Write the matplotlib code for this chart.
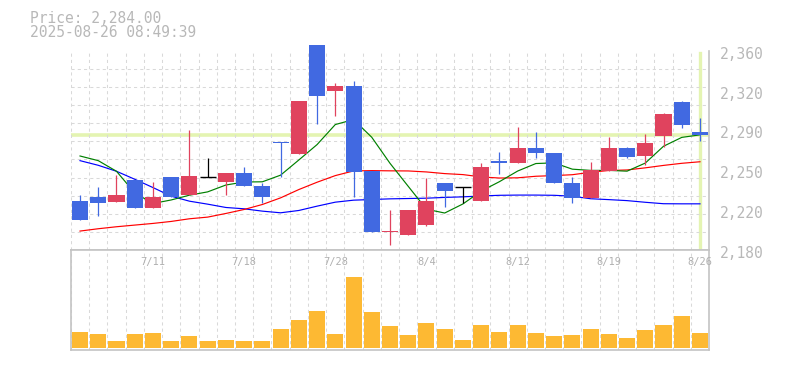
import matplotlib
matplotlib.use("Agg")
import matplotlib.pyplot as plt
import matplotlib.transforms as mtransforms
import numpy as np

# daily data 2025-07-07 .. 2025-08-26
dates = ["7/7", "7/8", "7/9", "7/10", "7/11", "7/14", "7/15", "7/16", "7/17", "7/18",
         "7/22", "7/23", "7/24", "7/25", "7/28", "7/29", "7/30", "7/31", "8/1", "8/4",
         "8/5", "8/6", "8/7", "8/8", "8/12", "8/13", "8/14", "8/15", "8/18", "8/19",
         "8/20", "8/21", "8/22", "8/25", "8/26"]
opens = [2224.7, 2228.3, 2223.2, 2243.6, 2217.8, 2245.7, 2229.5, 2246.3, 2241.2, 2249.9,
         2238.2, 2277.8, 2266.4, 2365.1, 2323.7, 2328.2, 2251.1, 2196.5, 2193.2, 2202.2,
         2240.9, 2237.3, 2224.1, 2260.7, 2258.3, 2272.4, 2267.9, 2240.9, 2226.8, 2251.1,
         2272.4, 2264.6, 2282.6, 2313.8, 2286.8]
highs = [2230.1, 2237.3, 2247.5, 2243.6, 2241.8, 2245.7, 2288.6, 2263.4, 2249.9, 2254.7,
         2240.3, 2277.8, 2315.0, 2365.1, 2331.2, 2333.0, 2251.1, 2215.7, 2215.7, 2245.4,
         2240.9, 2237.3, 2258.6, 2268.8, 2291.3, 2286.8, 2267.9, 2245.7, 2259.8, 2282.3,
         2273.3, 2285.0, 2303.9, 2314.7, 2299.4]
lows = [2207.0, 2210.6, 2223.2, 2217.8, 2217.8, 2227.7, 2229.5, 2246.3, 2229.5, 2237.6,
        2222.9, 2246.3, 2266.4, 2293.4, 2301.2, 2227.7, 2196.2, 2184.2, 2193.2, 2201.3,
        2218.4, 2222.0, 2224.1, 2248.4, 2258.3, 2262.8, 2240.3, 2222.3, 2226.8, 2251.1,
        2262.8, 2256.8, 2272.7, 2289.8, 2278.1]
closes = [2207.0, 2222.3, 2229.5, 2217.8, 2228.3, 2227.7, 2246.6, 2246.3, 2249.9, 2237.6,
          2227.7, 2276.3, 2315.0, 2319.5, 2328.2, 2250.2, 2196.2, 2197.4, 2215.7, 2224.7,
          2233.1, 2237.3, 2255.3, 2258.3, 2272.4, 2267.3, 2240.3, 2226.8, 2252.6, 2272.4,
          2263.7, 2276.9, 2303.0, 2292.5, 2284.0]
volume = [16, 14, 7, 14, 15, 7, 12, 7, 8, 7,
          7, 19, 28, 37, 14, 71, 36, 22, 13, 25,
          19, 8, 23, 16, 23, 15, 12, 13, 19, 14,
          10, 18, 23, 32, 15]  # thousand shares

ma_short = [2264.9, 2260.7, 2251.1, 2231.6, 2222.0, 2225.2, 2229.5, 2232.5, 2238.7, 2241.4,
            2241.6, 2247.6, 2261.3, 2275.2, 2293.3, 2297.8, 2281.8, 2258.3, 2237.5, 2216.8,
            2213.4, 2221.6, 2233.2, 2241.7, 2251.3, 2258.1, 2258.7, 2253.0, 2251.9, 2251.9,
            2251.2, 2258.5, 2273.7, 2281.7, 2284.0]
ma_mid = [2197.1, 2199.2, 2201.0, 2202.5, 2204.0, 2205.8, 2208.2, 2209.7, 2213.0, 2216.6,
          2221.1, 2227.1, 2234.6, 2241.2, 2247.2, 2251.4, 2251.7, 2251.5, 2251.4, 2250.5,
          2249.0, 2248.1, 2246.0, 2245.0, 2245.2, 2246.6, 2247.2, 2248.0, 2250.2, 2251.8,
          2252.3, 2254.2, 2256.4, 2258.3, 2259.7]
ma_long = [2260.7, 2256.5, 2251.1, 2243.9, 2236.4, 2228.6, 2224.1, 2221.4, 2218.4, 2217.2,
           2215.1, 2213.6, 2215.7, 2219.6, 2223.2, 2225.0, 2225.6, 2226.2, 2226.5, 2226.8,
           2227.5, 2228.0, 2228.8, 2229.4, 2229.6, 2229.6, 2229.4, 2228.6, 2226.3, 2225.5,
           2224.6, 2223.1, 2221.8, 2221.7, 2221.7]

price_now = 2284.00
stamp = "2025-08-26 08:49:39"
ytick_vals = [2180, 2216, 2252, 2288, 2324, 2360]
ytick_labels = ["2,180", "2,220", "2,250", "2,290", "2,320", "2,360"]
label_idx = [4, 9, 14, 19, 24, 29, 34]

UP = "#E0435E"
DOWN = "#4169E1"
GRID = "#d9d9d9"
FRAME = "#c4c4c4"
TXT = "#b8b8b8"
HL = "#E4F4B2"
VOLC = "#FDB933"

W, H = 785, 370
fig = plt.figure(figsize=(W / 100, H / 100), dpi=100)
left, right = 70.9, 709.1
ax = fig.add_axes([left / W, 1 - 250 / H, (right - left) / W, 199.3 / H])
axv = fig.add_axes([left / W, 1 - 350 / H, (right - left) / W, 100 / H])

x = np.arange(len(dates))
n = len(dates)

# price panel
ax.set_xlim(-0.5, n - 0.5)
ax.set_ylim(2180, 2360)
ax.set_xticks(np.arange(-0.5, n, 1.0), minor=True)
ax.set_yticks(np.linspace(2180, 2360, 12), minor=True)
ax.grid(which="minor", color=GRID, linestyle=(0, (3, 3)), linewidth=0.75)
ax.tick_params(which="both", length=0)
ax.set_xticks([])
ax.yaxis.tick_right()
ax.set_yticks(ytick_vals)
ax.set_yticklabels(ytick_labels, family="DejaVu Sans Mono", fontsize=10.5, color=TXT)
ax.tick_params(axis="y", pad=8)
off = mtransforms.ScaledTranslation(0, -2 / 100, fig.dpi_scale_trans)
for lab in ax.get_yticklabels():
    lab.set_transform(lab.get_transform() + off)
for s in ["top", "left"]:
    ax.spines[s].set_visible(False)
for s in ["right", "bottom"]:
    ax.spines[s].set_color(FRAME)
    ax.spines[s].set_linewidth(1.2)

ax.axhline(price_now, color=HL, linewidth=2.6, zorder=1)
ax.axvline(x[-1], color=HL, linewidth=2.4, zorder=1, ymax=0.99, ymin=0.01)

ax.plot(x, ma_long, color="#0000FF", linewidth=0.85, zorder=2)
ax.plot(x, ma_mid, color="#FF0000", linewidth=0.85, zorder=2)
ax.plot(x, ma_short, color="#008000", linewidth=0.85, zorder=2)

for i in range(n):
    o, c = opens[i], closes[i]
    if c > o:
        col = UP
    elif c < o:
        col = DOWN
    else:
        col = "black"
    ax.vlines(x[i], lows[i], highs[i], color=col, linewidth=0.9, zorder=3)
    if c == o:
        ax.hlines(o, x[i] - 0.44, x[i] + 0.44, color=col, linewidth=1.0, zorder=4)
    else:
        bot = min(o, c)
        hgt = max(abs(c - o), 1.0)
        b = ax.bar(x[i], hgt, bottom=bot, width=0.88, color=col, linewidth=0, zorder=4)
        for p in b:
            p.set_clip_on(False)

# volume panel
axv.set_xlim(-0.5, n - 0.5)
axv.set_ylim(-2.3, 97.7)
axv.bar(x, volume, width=0.88, color=VOLC, linewidth=0, zorder=2)
axv.set_xticks(np.arange(-0.5, n, 1.0), minor=True)
axv.grid(which="minor", axis="x", color=GRID, linestyle=(0, (3, 3)), linewidth=0.75)
axv.set_xticks([])
axv.set_yticks([])
axv.tick_params(which="both", length=0)
for s in axv.spines.values():
    s.set_color(FRAME)
    s.set_linewidth(1.2)
trans = mtransforms.blended_transform_factory(axv.transData, axv.transAxes)
for i in label_idx:
    axv.text(x[i], 0.88, dates[i], transform=trans, ha="center", va="center",
             family="DejaVu Sans Mono", fontsize=7.5, color="#b0b0b0", zorder=5)

# header
fig.text(30 / W, 1 - 22.7 / H, "Price: {:,.2f}".format(price_now), family="DejaVu Sans Mono",
         fontsize=10.5, color=TXT, va="baseline", ha="left")
fig.text(30 / W, 1 - 37.3 / H, stamp, family="DejaVu Sans Mono",
         fontsize=10.5, color=TXT, va="baseline", ha="left")

fig.savefig("out.png", dpi=100)
